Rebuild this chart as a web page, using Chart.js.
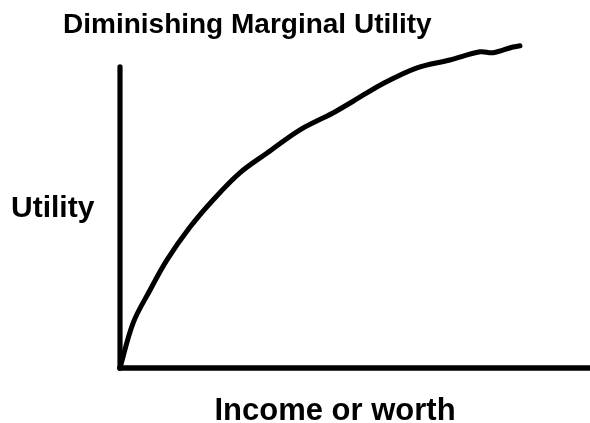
<!DOCTYPE html>
<html>
<head>
<meta charset="utf-8">
<script src="https://cdn.jsdelivr.net/npm/chart.js@4.4.1/dist/chart.umd.min.js"></script>
<style>
  html, body { margin: 0; padding: 0; background: #fff; }
  #wrap { width: 590px; height: 423px; }
</style>
</head>
<body>
<div id="wrap"><canvas id="utility"></canvas></div>
<script>
// income (x) and utility (y)
const income = [0, 0.28, 0.64, 1.0, 1.49, 1.98, 2.55, 3.13, 3.83, 4.53, 4.96, 5.6, 6.32, 7.02, 7.66, 7.94, 8.36, 8.51];
const utility = [0, 1.5, 2.59, 3.59, 4.68, 5.58, 6.48, 7.14, 7.91, 8.47, 8.86, 9.45, 9.97, 10.23, 10.5, 10.47, 10.66, 10.7];

// the two drawn axes
const xAxisX = [0, 10];
const xAxisY = [0, 0];
const yAxisX = [0, 0];
const yAxisY = [0, 10];

const titleText = 'Diminishing Marginal Utility';
const yLabel = 'Utility';
const xLabel = 'Income or worth';

const toPoints = (xs, ys) => xs.map((x, i) => ({ x, y: ys[i] }));

const font = '"Liberation Sans", Arial, Helvetica, sans-serif';

const axisLabels = {
    id: 'axisLabels',
    afterDraw(chart) {
        const { ctx, chartArea } = chart;
        ctx.save();
        ctx.fillStyle = '#000';
        ctx.font = 'bold 30px ' + font;
        ctx.textBaseline = 'alphabetic';
        ctx.textAlign = 'left';
        ctx.fillText(yLabel, chartArea.left - 109, chart.scales.y.getPixelForValue(5));
        ctx.font = 'bold 31px ' + font;
        ctx.textAlign = 'center';
        ctx.fillText(xLabel, chartArea.left + 215, chartArea.bottom + 52);
        ctx.restore();
    }
};

const line = {
    borderColor: '#000',
    borderWidth: 5.5,
    pointRadius: 0,
    fill: false,
    clip: false,
    borderCapStyle: 'round',
    borderJoinStyle: 'round'
};

new Chart(document.getElementById('utility').getContext('2d'), {
    type: 'scatter',
    data: {
        datasets: [
            { ...line, data: toPoints(xAxisX, xAxisY), showLine: true, borderWidth: 5.7 },
            { ...line, data: toPoints(yAxisX, yAxisY), showLine: true, borderWidth: 5.2 },
            { ...line, data: toPoints(income, utility), showLine: true, tension: 0.35, borderWidth: 5 }
        ]
    },
    options: {
        responsive: true,
        maintainAspectRatio: false,
        animation: false,
        layout: {
            padding: { left: 63, right: 0, top: 0, bottom: 0 }
        },
        plugins: {
            legend: { display: false },
            tooltip: { enabled: false },
            title: {
                display: true,
                text: titleText,
                align: 'start',
                color: '#000',
                font: { family: font, size: 28, weight: 'bold', lineHeight: 1.2 },
                padding: { top: 8, bottom: 0 }
            }
        },
        scales: {
            x: {
                type: 'linear',
                min: 0,
                max: 10,
                grid: { display: false },
                border: { display: false },
                ticks: { display: false },
                afterFit(scale) { scale.height = 55; }
            },
            y: {
                type: 'linear',
                min: 0,
                max: 10.84,
                grid: { display: false },
                border: { display: false },
                ticks: { display: false },
                afterFit(scale) { scale.width = 57; }
            }
        }
    },
    plugins: [axisLabels]
});
</script>
</body>
</html>
